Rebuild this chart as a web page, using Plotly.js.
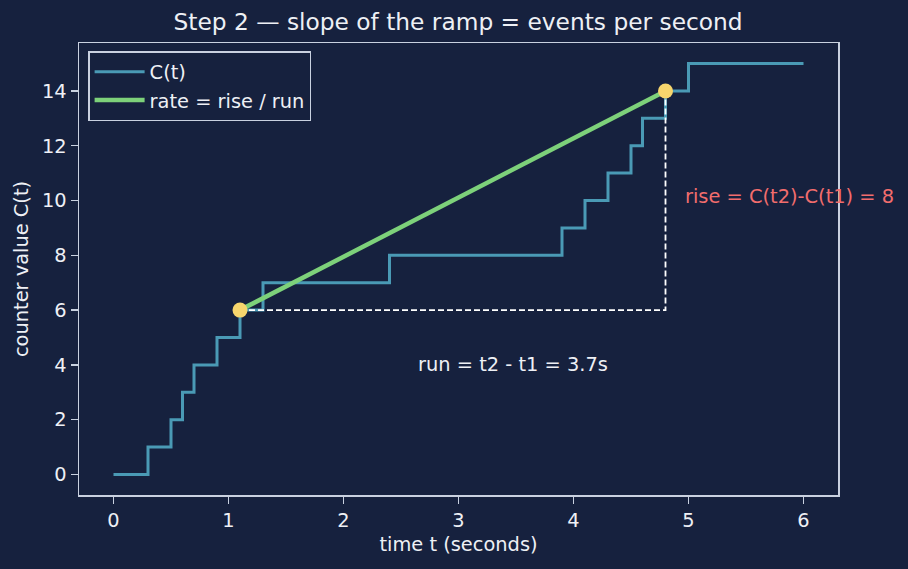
<!DOCTYPE html>
<html>
<head>
<meta charset="utf-8">
<script src="https://cdn.plot.ly/plotly-3.0.1.min.js"></script>
<style>html,body{margin:0;padding:0;background:#16213e;}#chart{width:908px;height:569px;}</style>
</head>
<body>
<div id="chart"></div>
<script>
// Step function C(t): times at which the counter increments
const stepTimes = [0, 0.3, 0.5, 0.6, 0.7, 0.9, 1.1, 1.3, 2.4, 3.9, 4.1, 4.3, 4.5, 4.6, 4.8, 5.0, 6.0];
const stepCounts = [0, 1, 2, 3, 4, 5, 6, 7, 8, 9, 10, 11, 12, 13, 14, 15, 15];
// Chosen points
const t1 = 1.1, t2 = 4.8;
const c1 = 6, c2 = 14;
const pointT = [t1, t2];
const pointC = [c1, c2];
// Dashed rise/run guide
const guideT = [t1, t2, t2];
const guideC = [c1, c1, c2];
// Annotation texts
const runLabel = "run = t2 - t1 = 3.7s";
const riseLabel = "rise = C(t2)-C(t1) = 8";
const xTicks = [0, 1, 2, 3, 4, 5, 6];
const yTicks = [0, 2, 4, 6, 8, 10, 12, 14];

const bg = '#16213e';
const fg = '#eef0f5';
const spine = '#c9d1e0';
const font = 'DejaVu Sans, sans-serif';
const fs = 19.4;

const traces = [
  {x: stepTimes, y: stepCounts, type: 'scatter', mode: 'lines', name: 'C(t)',
   line: {shape: 'hv', color: '#4a9ab5', width: 3}},
  {x: pointT, y: pointC, type: 'scatter', mode: 'lines', name: 'rate = rise / run',
   line: {color: '#7dd17a', width: 4.5}},
  {x: guideT, y: guideC, type: 'scatter', mode: 'lines', showlegend: false, hoverinfo: 'skip',
   line: {color: '#ffffff', width: 1.8, dash: '6px,3px'}},
  {x: pointT, y: pointC, type: 'scatter', mode: 'markers', showlegend: false,
   marker: {color: '#f7d66d', size: 15}}
];

const layout = {
  width: 908, height: 569,
  paper_bgcolor: bg, plot_bgcolor: bg,
  font: {family: font, color: fg, size: fs},
  margin: {l: 79, r: 70, t: 43, b: 74},
  title: {text: 'Step 2 — slope of the ramp = events per second', x: 0.5045, xanchor: 'center', y: 0.962, yanchor: 'middle',
          font: {size: 23.3, color: fg, family: font}},
  xaxis: {range: [-0.3, 6.3], tickvals: xTicks, ticktext: xTicks.map(String),
          showgrid: false, zeroline: false, showline: true, mirror: true, linecolor: spine, linewidth: 1.5,
          ticks: 'outside', ticklen: 7, tickwidth: 1.5, tickcolor: spine, tickfont: {size: fs, color: fg},
          title: {text: 'time t (seconds)', font: {size: fs, color: fg}, standoff: 6}},
  yaxis: {range: [-0.75, 15.75], tickvals: yTicks, ticktext: yTicks.map(String),
          showgrid: false, zeroline: false, showline: true, mirror: true, linecolor: spine, linewidth: 1.5,
          ticks: 'outside', ticklen: 7, tickwidth: 1.5, tickcolor: spine, tickfont: {size: fs, color: fg},
          title: {text: 'counter value C(t)', font: {size: fs, color: fg}, standoff: 8}},
  legend: {x: 0.012, y: 0.982, xanchor: 'left', yanchor: 'top', bgcolor: bg,
           bordercolor: spine, borderwidth: 1.5, font: {size: fs, color: fg}, tracegroupgap: 0, itemwidth: 50},
  annotations: [
    {x: (t1 + t2) / 2 + 0.52, y: 4, xref: 'x', yref: 'y', text: runLabel, showarrow: false,
     xanchor: 'center', yanchor: 'middle', font: {size: fs, color: fg}},
    {x: t2 + 0.15, y: 10.15, xref: 'x', yref: 'y', text: riseLabel, showarrow: false,
     xanchor: 'left', yanchor: 'middle', font: {size: fs, color: '#f26d6d'}}
  ],
  showlegend: true
};

Plotly.newPlot('chart', traces, layout, {displayModeBar: false, staticPlot: true});
</script>
</body>
</html>
